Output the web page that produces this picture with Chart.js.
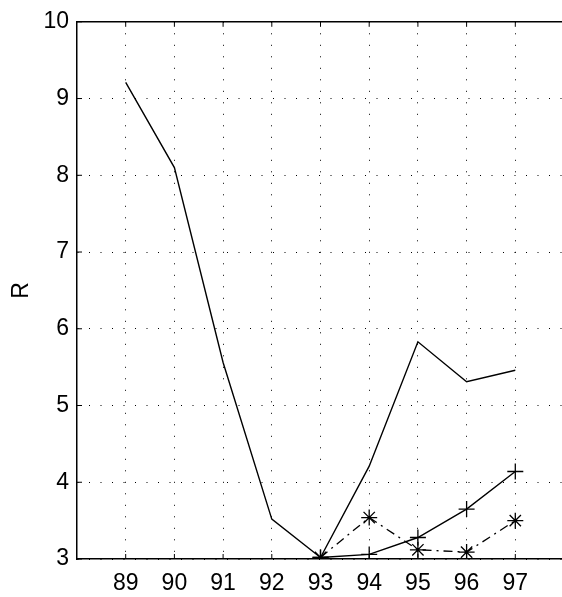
<!DOCTYPE html>
<html>
<head>
<meta charset="utf-8">
<script src="https://cdn.jsdelivr.net/npm/chart.js@4.4.0/dist/chart.umd.min.js"></script>
<style>
  body { margin: 0; background: #fff; overflow: hidden; }
  #wrap { width: 580px; height: 597px; }
</style>
</head>
<body>
<div id="wrap"><canvas id="myChart" width="580" height="597"></canvas></div>
<script>
var years = [89, 90, 91, 92, 93, 94, 95, 96, 97];
var seriesA = [9.21, 8.10, 5.56, 3.52, 3.02, 4.21, 5.83, 5.31, 5.46];
var yearsB = [93, 94, 95, 96, 97];
var seriesB = [3.02, 3.06, 3.28, 3.65, 4.14];
var seriesC = [3.02, 3.54, 3.12, 3.09, 3.50];
var yTicks = [3, 4, 5, 6, 7, 8, 9, 10];

function pts(xs, ys) {
  return xs.map(function (x, i) { return { x: x, y: ys[i] }; });
}

var FONT = { family: "Liberation Sans, Arial, sans-serif", size: 23 };

// frame: top border, inward tick marks and the y label
var frame = {
  id: 'frame',
  afterDraw: function (chart) {
    var c = chart.ctx, a = chart.chartArea;
    var sx = chart.scales.x, sy = chart.scales.y;
    c.save();
    c.strokeStyle = '#000';
    c.lineWidth = 1.5;
    c.beginPath();
    c.moveTo(a.left, a.top);
    c.lineTo(a.right, a.top);
    c.stroke();
    c.lineWidth = 1;
    years.forEach(function (v) {
      var px = sx.getPixelForValue(v);
      c.beginPath();
      c.moveTo(px, a.top); c.lineTo(px, a.top + 5);
      c.moveTo(px, a.bottom); c.lineTo(px, a.bottom - 5);
      c.stroke();
    });
    yTicks.forEach(function (v) {
      var py = sy.getPixelForValue(v);
      c.beginPath();
      c.moveTo(a.left, py); c.lineTo(a.left + 5, py);
      c.stroke();
    });
    c.translate(22, (a.top + a.bottom) / 2);
    c.rotate(-Math.PI / 2);
    c.fillStyle = '#000';
    c.font = '23px "Liberation Sans", Arial, sans-serif';
    c.textAlign = 'center';
    c.textBaseline = 'middle';
    c.fillText('R', 0, 0);
    c.restore();
  }
};

var ctx = document.getElementById("myChart");
var myChart = new Chart(ctx, {
  type: 'line',
  data: {
    datasets: [{
      label: 'A',
      data: pts(years, seriesA),
      borderColor: '#000',
      borderWidth: 1.4,
      pointRadius: 0,
      tension: 0
    }, {
      label: 'B',
      data: pts(yearsB, seriesB),
      borderColor: '#000',
      borderWidth: 1.4,
      pointStyle: 'cross',
      pointRadius: 8,
      pointBorderWidth: 1.3,
      pointBorderColor: '#000',
      tension: 0
    }, {
      label: 'C',
      data: pts(yearsB, seriesC),
      borderColor: '#000',
      borderWidth: 1.3,
      borderDash: [9, 5, 2, 5],
      pointStyle: 'star',
      pointRadius: 8,
      pointBorderWidth: 1.3,
      pointBorderColor: '#000',
      tension: 0
    }]
  },
  options: {
    responsive: false,
    animation: false,
    events: [],
    layout: { padding: { top: 14, right: 16, left: 0, bottom: 0 } },
    plugins: { legend: { display: false }, tooltip: { enabled: false } },
    scales: {
      x: {
        type: 'linear',
        min: 88,
        max: 98,
        afterBuildTicks: function (s) {
          s.ticks = years.map(function (v) { return { value: v }; });
        },
        afterFit: function (s) { s.height = 38; },
        ticks: { color: '#000', font: FONT, padding: 11, maxRotation: 0 },
        grid: { color: '#000', lineWidth: 1, drawTicks: false },
        border: { color: '#000', width: 1.5, dash: [1, 10.5] }
      },
      y: {
        min: 3,
        max: 10,
        afterBuildTicks: function (s) {
          s.ticks = yTicks.map(function (v) { return { value: v }; });
        },
        afterFit: function (s) { s.width = 77; },
        ticks: { color: '#000', font: FONT, padding: 8 },
        grid: { color: '#000', lineWidth: 1, drawTicks: false },
        border: { color: '#000', width: 1.5, dash: [1, 10.5] }
      }
    }
  },
  plugins: [frame]
});
</script>
</body>
</html>
